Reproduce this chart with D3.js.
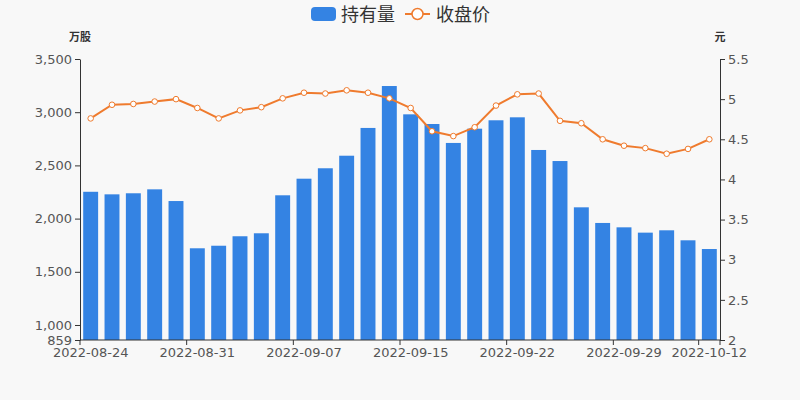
<!DOCTYPE html>
<html><head><meta charset="utf-8">
<script src="https://cdn.jsdelivr.net/npm/d3@7"></script>
<style>
html,body{margin:0;padding:0;background:#f8f8f8;}
svg{display:block;font-family:"Noto Sans CJK SC","DejaVu Sans",sans-serif;}
</style></head>
<body><svg id="c" width="800" height="400"></svg>
<script>
const dates = ["2022-08-24","2022-08-25","2022-08-26","2022-08-29","2022-08-30","2022-08-31","2022-09-01","2022-09-02","2022-09-05","2022-09-06","2022-09-07","2022-09-08","2022-09-09","2022-09-13","2022-09-14","2022-09-15","2022-09-16","2022-09-19","2022-09-20","2022-09-21","2022-09-22","2022-09-23","2022-09-26","2022-09-27","2022-09-28","2022-09-29","2022-09-30","2022-10-10","2022-10-11","2022-10-12"];
const holdings = [2252,2228,2238,2275,2165,1721,1745,1834,1862,2219,2375,2473,2591,2852,3246,2980,2889,2711,2845,2924,2952,2645,2541,2106,1959,1918,1868,1890,1796,1714];
const closePrice = [4.76,4.93,4.94,4.97,5.00,4.89,4.76,4.86,4.90,5.01,5.08,5.07,5.11,5.08,5.01,4.89,4.60,4.54,4.65,4.92,5.06,5.07,4.73,4.70,4.50,4.42,4.39,4.32,4.38,4.50];
const leftTicks = [859,1000,1500,2000,2500,3000,3500];
const rightTicks = [2,2.5,3,3.5,4,4.5,5,5.5];
const labelIdx = [0,5,10,15,20,25,29];
const seriesNames = ["持有量","收盘价"];
const axisNames = ["万股","元"];

const barColor = "#3483e3", lineColor = "#ef7b2e", textColor = "#555", axisColor = "#333";
const L = 80, R = 720, T = 59, B = 340;
const svg = d3.select("#c");

const x = d3.scaleBand().domain(dates).range([L, R]).paddingInner(0).paddingOuter(0);
const yL = d3.scaleLinear().domain([859, 3500]).range([B, T]);
const yR = d3.scaleLinear().domain([2, 5.5]).range([B, T]);
const bw = x.bandwidth() * 0.7;

// bars
svg.append("g").selectAll("rect").data(holdings).join("rect")
  .attr("x", (d,i) => x(dates[i]) + (x.bandwidth()-bw)/2)
  .attr("y", d => yL(d))
  .attr("width", bw)
  .attr("height", d => B - yL(d))
  .attr("fill", barColor);

// line
const line = d3.line().x((d,i) => x(dates[i]) + x.bandwidth()/2).y(d => yR(d));
svg.append("path").datum(closePrice).attr("d", line)
  .attr("fill","none").attr("stroke", lineColor).attr("stroke-width", 2);
svg.append("g").selectAll("circle").data(closePrice).join("circle")
  .attr("cx", (d,i) => x(dates[i]) + x.bandwidth()/2)
  .attr("cy", d => yR(d)).attr("r", 2.8)
  .attr("fill", "#fff").attr("stroke", lineColor).attr("stroke-width", 1);

// left axis
const fmt = d3.format(",");
const gl = svg.append("g").attr("transform", `translate(${L},0)`)
  .call(d3.axisLeft(yL).tickValues(leftTicks).tickFormat(fmt).tickSize(5).tickSizeOuter(0).tickPadding(3));
const gr = svg.append("g").attr("transform", `translate(${R},0)`)
  .call(d3.axisRight(yR).tickValues(rightTicks).tickFormat(d => d3.format("")(d)).tickSize(5).tickSizeOuter(0).tickPadding(3));
// bottom axis: ticks at band starts of labelled indices + end
const gb = svg.append("g").attr("transform", `translate(0,${B})`);
gb.append("line").attr("x1", L).attr("x2", R).attr("stroke", axisColor);
const tickXs = labelIdx.map(i => x(dates[i])).concat([R]);
gb.selectAll("line.t").data(tickXs).join("line").attr("class","t")
  .attr("x1", d => d).attr("x2", d => d).attr("y1", 0).attr("y2", 5).attr("stroke", axisColor);
gb.selectAll("text").data(labelIdx).join("text")
  .attr("x", i => x(dates[i]) + x.bandwidth()/2).attr("y", 17)
  .attr("text-anchor","middle").attr("fill", textColor).attr("font-size", 13)
  .attr("font-family","DejaVu Sans, sans-serif")
  .text(i => dates[i]);

[gl, gr].forEach(g => {
  g.select(".domain").attr("stroke", axisColor);
  g.selectAll(".tick line").attr("stroke", axisColor);
  g.selectAll(".tick text").attr("fill", textColor).attr("font-size", 13).attr("font-family","DejaVu Sans, sans-serif");
});

// axis names
svg.append("text").attr("x", 80).attr("y", 41).attr("text-anchor","middle")
  .attr("font-size", 11).attr("font-weight","bold").attr("fill", axisColor).text(axisNames[0]);
svg.append("text").attr("x", 720).attr("y", 41).attr("text-anchor","middle")
  .attr("font-size", 11).attr("font-weight","bold").attr("fill", axisColor).text(axisNames[1]);

// legend
const lg = svg.append("g");
lg.append("rect").attr("x", 311).attr("y", 7).attr("width", 25).attr("height", 14).attr("rx", 4).attr("fill", barColor);
lg.append("text").attr("x", 341).attr("y", 21).attr("font-size", 18).attr("fill", axisColor).text(seriesNames[0]);
lg.append("line").attr("x1", 405).attr("x2", 430).attr("y1", 14).attr("y2", 14).attr("stroke", lineColor).attr("stroke-width", 2);
lg.append("circle").attr("cx", 417.5).attr("cy", 14).attr("r", 5.5).attr("fill", "#fff").attr("stroke", lineColor).attr("stroke-width", 1.5);
lg.append("text").attr("x", 436).attr("y", 21).attr("font-size", 18).attr("fill", axisColor).text(seriesNames[1]);
</script></body></html>
